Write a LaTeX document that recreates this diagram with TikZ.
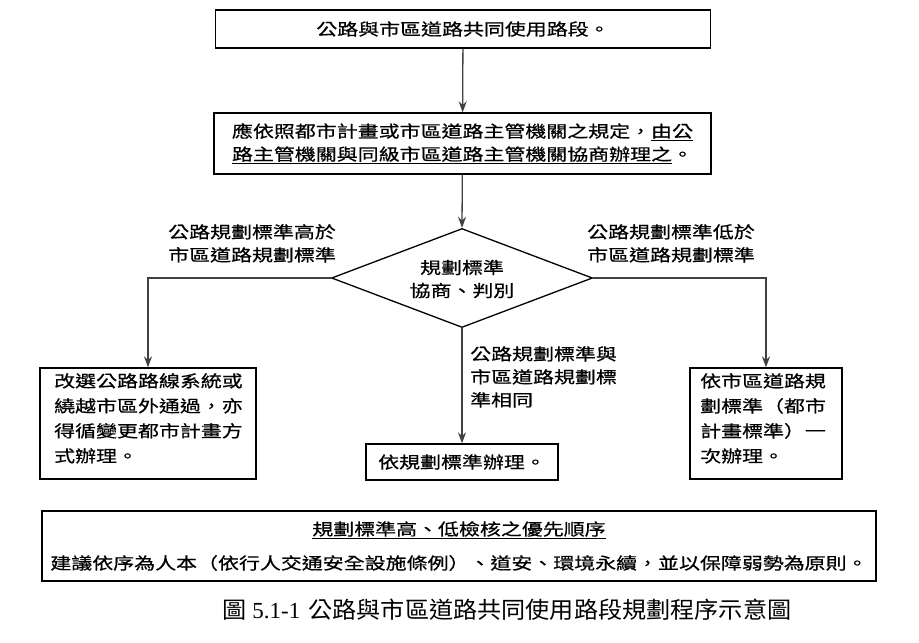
\documentclass[tikz,border=0pt]{standalone}
\usepackage{fontspec}
\setmainfont{Liberation Serif}
\newfontfamily\cjk[FakeStretch=1.27,FakeBold=0.6]{Noto Sans CJK TC}
\newfontfamily\cjkcap[FakeStretch=1.05]{Noto Sans CJK TC}
\usetikzlibrary{shapes.geometric,arrows.meta}
\begin{document}
\begin{tikzpicture}[x=1pt,y=-1pt,
  box/.style={draw,line width=1.3pt,inner sep=0pt,font=\cjk\fontsize{16.5}{24}\selectfont},
  lab/.style={inner sep=0pt,font=\cjk\fontsize{16.5}{24}\selectfont,align=left,anchor=north west},
  arr/.style={line width=1.3pt,draw=black!75,-{Stealth[length=11pt,width=8pt]}}]
\useasboundingbox (0,0) rectangle (919,643);
\node[box,minimum width=495,minimum height=38] (b1) at (463,29) {公路與市區道路共同使用路段。};
\node[box,minimum width=497,minimum height=61,align=center] (b2) at (462.5,143.5)
 {應依照都市計畫或市區道路主管機關之規定，\underline{由公}\\[-1pt]\underline{路主管機關與同級市區道路主管機關協商辦理之}。};
\node[box,diamond,minimum width=261,minimum height=99,aspect=2.6] (d) at (462,278) {};
\node[lab,align=center,anchor=center] (dt) at (462,279) {規劃標準\\[-1pt]協商、判別};
\node[box,minimum width=216,minimum height=111] (L) at (148,423.5) {};
\node[lab] (Lt) at (54,373) {改選公路路線系統或\\[1pt]繞越市區外通過，亦\\[1pt]得循變更都市計畫方\\[1pt]式辦理。};
\node[box,minimum width=192,minimum height=36] (C) at (462,462) {依規劃標準辦理。};
\node[box,minimum width=152,minimum height=111] (R) at (766,423.5) {};
\node[lab] (Rt) at (700,373) {依市區道路規\\[1pt]劃標準（都市\\[1pt]計畫標準）一\\[1pt]次辦理。};
\node[lab] (ll) at (168,224) {公路規劃標準高於\\[-1pt]市區道路規劃標準};
\node[lab] (rl) at (587,224) {公路規劃標準低於\\[-1pt]市區道路規劃標準};
\node[lab] (cl) at (470,346) {公路規劃標準與\\[-1pt]市區道路規劃標\\[-1pt]準相同};
\coordinate (lc) at (148,278);
\coordinate (rc) at (766,278);
\draw[arr] (b1) -- (b2);
\draw[arr] (b2) -- (d.north);
\draw[arr] (d.west) -- (lc) -- (L.north);
\draw[arr] (d.east) -- (rc) -- (R.north);
\draw[arr] (d.south) -- (C.north);
\node[box,minimum width=834,minimum height=70] (B) at (459,546) {};
\node[lab,anchor=center] (Bt) at (459,530) {\underline{規劃標準高、低檢核之優先順序}};
\node[lab,anchor=center] (Bb) at (459,563) {建議依序為人本（依行人交通安全設施條例）、道安、環境永續，並以保障弱勢為原則。};
\node[inner sep=0pt,font=\fontsize{23}{26}\selectfont] (cap) at (507,610) {{\cjkcap 圖} 5.1-1\hspace{8pt}{\cjkcap 公路與市區道路共同使用路段規劃程序示意圖}};
\end{tikzpicture}
\end{document}
